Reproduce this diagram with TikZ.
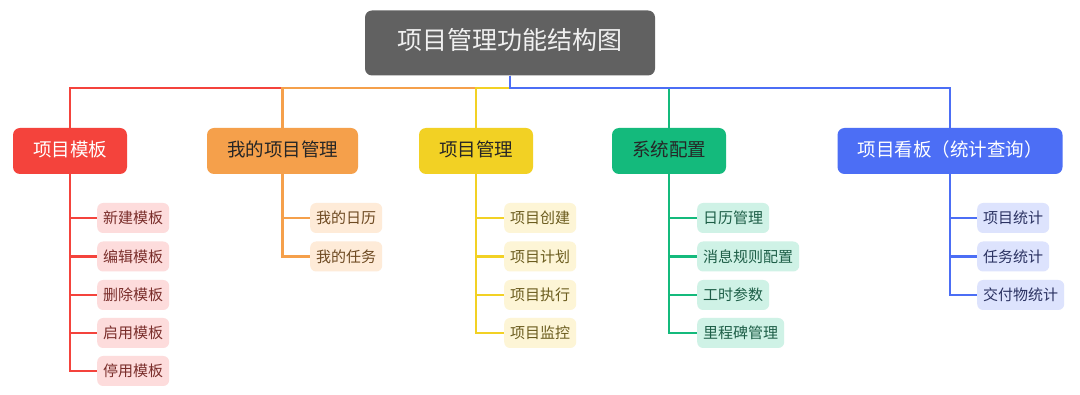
\documentclass[tikz,border=0pt]{standalone}
\usepackage{fontspec}
\setmainfont{Noto Sans CJK SC}
\definecolor{rootgray}{HTML}{616161}
\definecolor{cred}{HTML}{F4433C}
\definecolor{cora}{HTML}{F5A04B}
\definecolor{cyel}{HTML}{F2D124}
\definecolor{cgrn}{HTML}{14BA7C}
\definecolor{cblu}{HTML}{4C6EF5}
\definecolor{lred}{HTML}{FDDCDC}
\definecolor{lora}{HTML}{FEEBD8}
\definecolor{lyel}{HTML}{FDF5D6}
\definecolor{lgrn}{HTML}{CFF2E6}
\definecolor{lblu}{HTML}{DDE3FD}
\definecolor{tred}{HTML}{7A2E2B}
\definecolor{tora}{HTML}{6E4A22}
\definecolor{tyel}{HTML}{6B5C1E}
\definecolor{tgrn}{HTML}{1D5E47}
\definecolor{tblu}{HTML}{2B3262}
\begin{document}
\begin{tikzpicture}[x=1pt,y=-1pt,
  rootbox/.style={fill=rootgray, rounded corners=7pt, minimum height=65pt, minimum width=290pt, text=white!94!black, font=\fontsize{25}{25}\selectfont, text height=1.3em, text depth=-0.3em},
  branchbox/.style={rounded corners=7pt, minimum height=46pt, inner xsep=20pt, font=\fontsize{18.5}{18.5}\selectfont, text height=1.2em, text depth=-0.2em},
  leafbox/.style={rounded corners=6pt, minimum height=30pt, inner xsep=6pt, anchor=west, font=\fontsize{15}{15}\selectfont, text height=1.12em, text depth=-0.12em},
  conn/.style={line width=2.8pt}
]
\useasboundingbox (0,0) rectangle (1080,395);
\fill[white] (0,0) rectangle (1080,395);

\node[rootbox] (root) at (510,43) {项目管理功能结构图};
\coordinate (bus) at (510,88);

\node[branchbox, fill=cred, text=white] (b1) at (70,151) {项目模板};
\node[branchbox, fill=cora, text=black!85] (b2) at (282.5,151) {我的项目管理};
\node[branchbox, fill=cyel, text=black!85] (b3) at (476,151) {项目管理};
\node[branchbox, fill=cgrn, text=black!85] (b4) at (669,151) {系统配置};
\node[branchbox, fill=cblu, text=white] (b5) at (950,151) {项目看板（统计查询）};

\draw[conn, cred] (root.south) -- (bus) -| (b1.north);
\draw[conn, cora] (root.south) -- (bus) -| (b2.north);
\draw[conn, cyel] (root.south) -- (bus) -| (b3.north);
\draw[conn, cgrn] (root.south) -- (bus) -| (b4.north);
\draw[conn, cblu] (root.south) -- (bus) -| (b5.north);

% red leaves
\node[leafbox, fill=lred, text=tred] (r1) at (97,218) {新建模板};
\node[leafbox, fill=lred, text=tred] (r2) at (97,256.5) {编辑模板};
\node[leafbox, fill=lred, text=tred] (r3) at (97,295) {删除模板};
\node[leafbox, fill=lred, text=tred] (r4) at (97,333) {启用模板};
\node[leafbox, fill=lred, text=tred] (r5) at (97,371) {停用模板};
\draw[conn, cred] (b1.south) -- (b1.south |- r5.west) -- (r5.west);
\foreach \n in {r1,r2,r3,r4} \draw[conn, cred] (b1.south |- \n.west) -- (\n.west);

% orange leaves
\node[leafbox, fill=lora, text=tora] (o1) at (310,218) {我的日历};
\node[leafbox, fill=lora, text=tora] (o2) at (310,256.5) {我的任务};
\draw[conn, cora] (b2.south) -- (b2.south |- o2.west) -- (o2.west);
\draw[conn, cora] (b2.south |- o1.west) -- (o1.west);

% yellow leaves
\node[leafbox, fill=lyel, text=tyel] (y1) at (504,218) {项目创建};
\node[leafbox, fill=lyel, text=tyel] (y2) at (504,256.5) {项目计划};
\node[leafbox, fill=lyel, text=tyel] (y3) at (504,295) {项目执行};
\node[leafbox, fill=lyel, text=tyel] (y4) at (504,333) {项目监控};
\draw[conn, cyel] (b3.south) -- (b3.south |- y4.west) -- (y4.west);
\foreach \n in {y1,y2,y3} \draw[conn, cyel] (b3.south |- \n.west) -- (\n.west);

% green leaves
\node[leafbox, fill=lgrn, text=tgrn] (g1) at (697,218) {日历管理};
\node[leafbox, fill=lgrn, text=tgrn] (g2) at (697,256.5) {消息规则配置};
\node[leafbox, fill=lgrn, text=tgrn] (g3) at (697,295) {工时参数};
\node[leafbox, fill=lgrn, text=tgrn] (g4) at (697,333) {里程碑管理};
\draw[conn, cgrn] (b4.south) -- (b4.south |- g4.west) -- (g4.west);
\foreach \n in {g1,g2,g3} \draw[conn, cgrn] (b4.south |- \n.west) -- (\n.west);

% blue leaves
\node[leafbox, fill=lblu, text=tblu] (u1) at (977,218) {项目统计};
\node[leafbox, fill=lblu, text=tblu] (u2) at (977,256.5) {任务统计};
\node[leafbox, fill=lblu, text=tblu] (u3) at (977,295) {交付物统计};
\draw[conn, cblu] (b5.south) -- (b5.south |- u3.west) -- (u3.west);
\foreach \n in {u1,u2} \draw[conn, cblu] (b5.south |- \n.west) -- (\n.west);
\end{tikzpicture}
\end{document}
